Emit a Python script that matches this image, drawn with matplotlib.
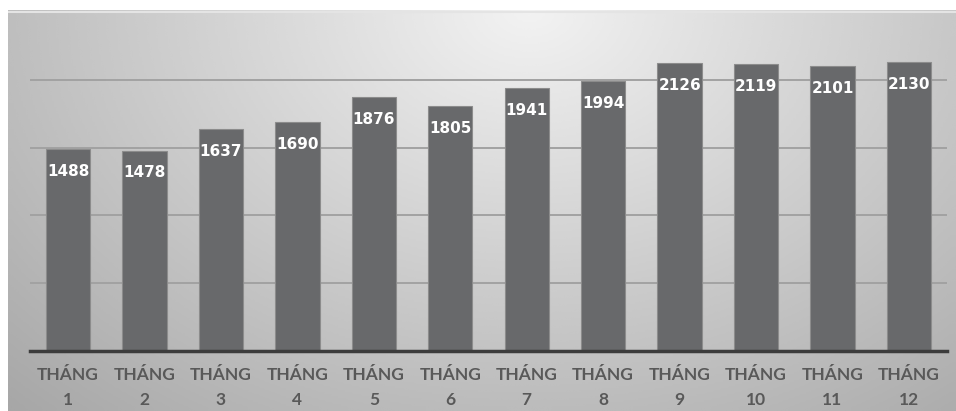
import numpy as np
import matplotlib
matplotlib.use("Agg")
import matplotlib.pyplot as plt

months = ["THÁNG\n%d" % i for i in range(1, 13)]
values = [1488, 1478, 1637, 1690, 1876, 1805, 1941, 1994, 2126, 2119, 2101, 2130]
grid_ticks = [500, 1000, 1500, 2000]

W, H = 956, 411
fig = plt.figure(figsize=(W / 100, H / 100), dpi=100)
fig.patch.set_facecolor("white")

# gradient backdrop (light at top centre, darker towards the edges)
bg = fig.add_axes([8 / W, 0, (W - 8) / W, (H - 10) / H])
gx, gy = np.meshgrid(np.linspace(0, 1, 400), np.linspace(0, 1, 200))
d = np.sqrt(((gx - 0.55) / 0.75) ** 2 + (gy / 1.3) ** 2)
shade = np.clip(0.95 - 0.28 * d, 0.6, 1)
bg.imshow(shade, cmap="gray", vmin=0, vmax=1, aspect="auto",
          extent=[0, 1, 1, 0], interpolation="bicubic")
bg.axhline(0.004, color="#e4e4e4", linewidth=1.5)
bg.axis("off")

x0, x1 = 29.8, 947.2
y_base, y_top = 350.7, 12.2
ax = fig.add_axes([x0 / W, (H - y_base) / H, (x1 - x0) / W, (y_base - y_top) / H])
ax.patch.set_alpha(0)

x = np.arange(len(values))
ax.bar(x, values, width=0.58, color="#68696b", edgecolor="#8c8c8c",
       linewidth=0.8, zorder=3)
for xi, v in zip(x, values):
    ax.text(xi, v - 165, str(v), ha="center", va="center", color="white",
            fontsize=11, fontweight="bold", zorder=4)

ax.set_xlim(-0.5, len(values) - 0.5)
ax.set_ylim(0, 2500)
ax.set_yticks(grid_ticks)
ax.yaxis.grid(True, color="#a2a2a2", linewidth=1.4, zorder=1)
ax.tick_params(axis="y", left=False, labelleft=False)
ax.tick_params(axis="x", bottom=False, pad=8)
ax.set_xticks(x)
ax.set_xticklabels(months, fontsize=12.5, color="#595959", linespacing=1.75,
                   family=["Lato", "DejaVu Sans"], fontweight="bold")
for s in ["top", "left", "right"]:
    ax.spines[s].set_visible(False)
ax.spines["bottom"].set_color("#3c3c3c")
ax.spines["bottom"].set_linewidth(2.5)
ax.spines["bottom"].set_zorder(5)

fig.savefig("out.png", dpi=100)
